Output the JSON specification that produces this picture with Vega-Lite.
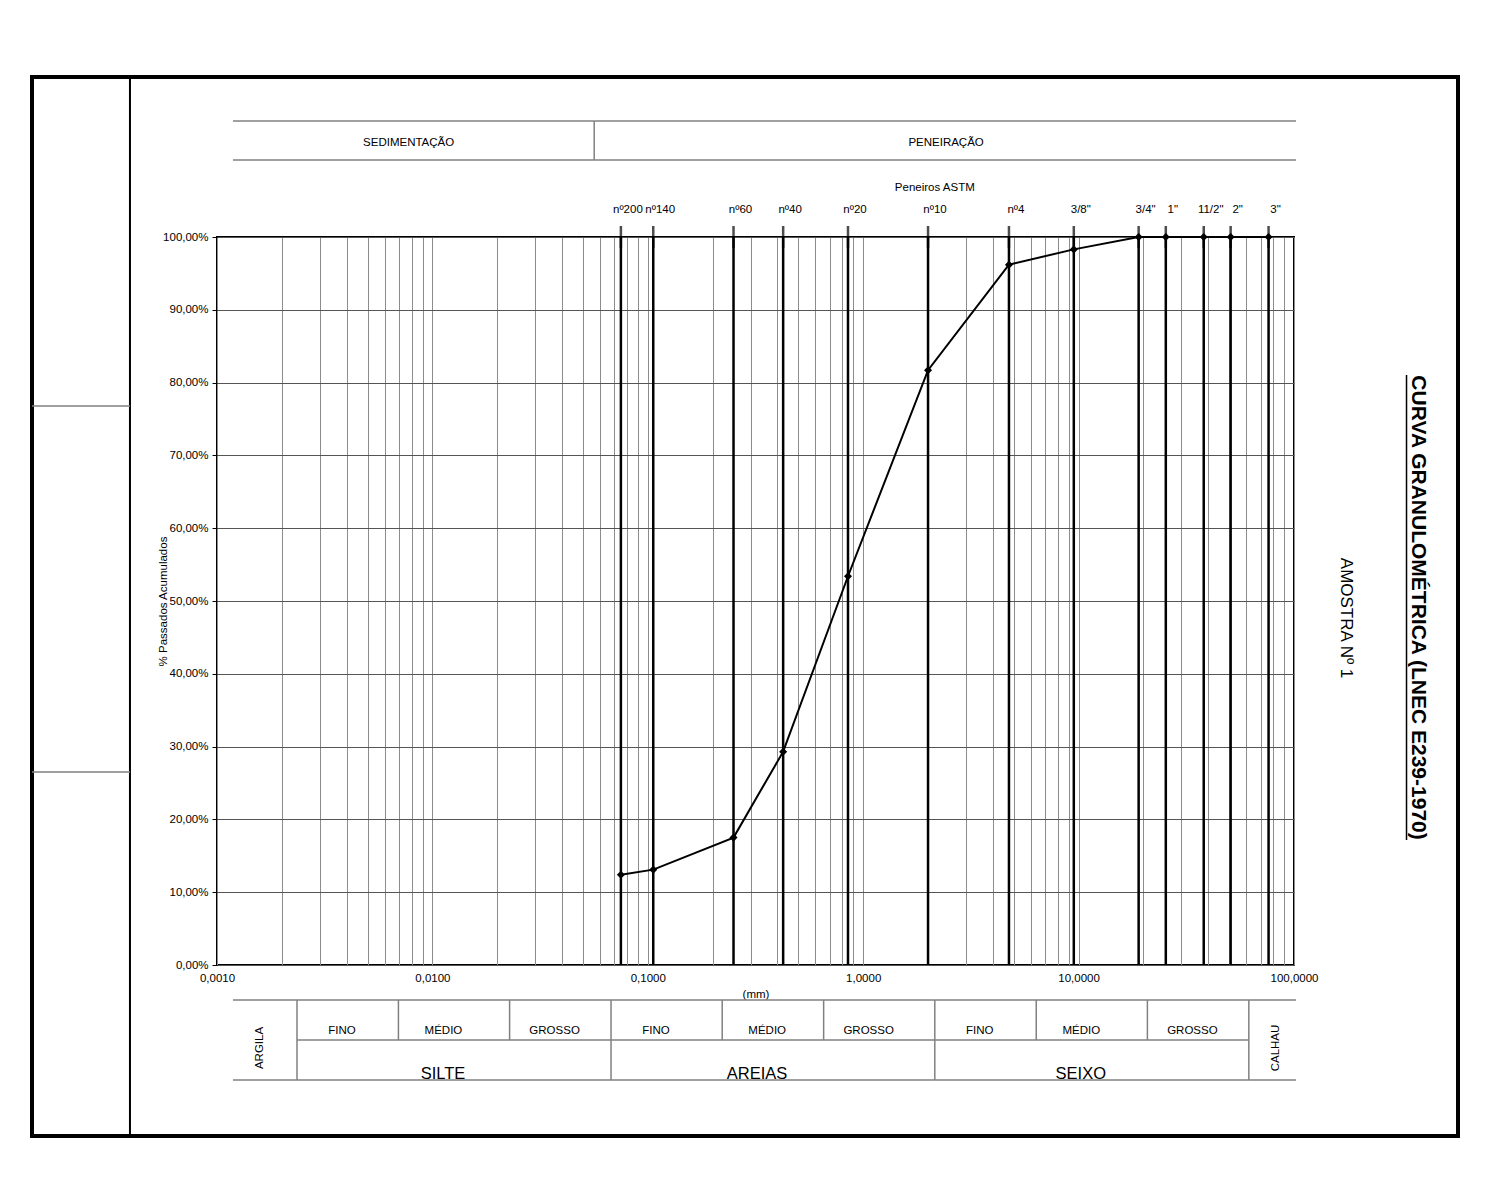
{
  "$schema": "https://vega.github.io/schema/vega-lite/v6.json",
  "width": 1077,
  "height": 728,
  "autosize": {"type": "none"},
  "padding": {"left": 217, "top": 237, "right": 206, "bottom": 235},
  "background": "white",
  "config": {
    "font": "Liberation Sans",
    "view": {"stroke": "black", "strokeWidth": 2},
    "axis": {"labelFont": "Liberation Sans", "labelFontSize": 11.5, "labelColor": "black", "titleFont": "Liberation Sans", "titleFontSize": 11.5, "titleFontWeight": "normal", "titleColor": "black"},
    "text": {"font": "Liberation Sans", "fontSize": 11.5, "color": "black"}
  },
  "datasets": {
    "sieves": [
      {"sieve": "nº200", "size": 0.075, "passing": 0.124},
      {"sieve": "nº140", "size": 0.106, "passing": 0.131},
      {"sieve": "nº60", "size": 0.25, "passing": 0.175},
      {"sieve": "nº40", "size": 0.425, "passing": 0.293},
      {"sieve": "nº20", "size": 0.85, "passing": 0.534},
      {"sieve": "nº10", "size": 2.0, "passing": 0.817},
      {"sieve": "nº4", "size": 4.75, "passing": 0.962},
      {"sieve": "3/8\"", "size": 9.5, "passing": 0.983},
      {"sieve": "3/4\"", "size": 19.0, "passing": 1.0},
      {"sieve": "1\"", "size": 25.4, "passing": 1.0},
      {"sieve": "11/2\"", "size": 38.1, "passing": 1.0},
      {"sieve": "2\"", "size": 50.8, "passing": 1.0},
      {"sieve": "3\"", "size": 76.2, "passing": 1.0}
    ],
    "fractions": [
      {"fraction": "ARGILA", "from": 0.001, "to": 0.002},
      {"fraction": "SILTE", "from": 0.002, "to": 0.06},
      {"fraction": "AREIAS", "from": 0.06, "to": 2},
      {"fraction": "SEIXO", "from": 2, "to": 60},
      {"fraction": "CALHAU", "from": 60, "to": 100}
    ],
    "subfractions": [
      {"fraction": "SILTE", "grade": "FINO", "from": 0.002, "to": 0.006},
      {"fraction": "SILTE", "grade": "MÉDIO", "from": 0.006, "to": 0.02},
      {"fraction": "SILTE", "grade": "GROSSO", "from": 0.02, "to": 0.06},
      {"fraction": "AREIAS", "grade": "FINO", "from": 0.06, "to": 0.2},
      {"fraction": "AREIAS", "grade": "MÉDIO", "from": 0.2, "to": 0.6},
      {"fraction": "AREIAS", "grade": "GROSSO", "from": 0.6, "to": 2},
      {"fraction": "SEIXO", "grade": "FINO", "from": 2, "to": 6},
      {"fraction": "SEIXO", "grade": "MÉDIO", "from": 6, "to": 20},
      {"fraction": "SEIXO", "grade": "GROSSO", "from": 20, "to": 60}
    ],
    "procedures": [
      {"method": "SEDIMENTAÇÃO", "from": 0.001, "to": 0.05},
      {"method": "PENEIRAÇÃO", "from": 0.05, "to": 100}
    ]
  },
  "resolve": {"scale": {"x": "independent", "y": "independent"}},
  "layer": [
    {
      "data": {"name": "sieves"},
      "layer": [
        {
          "mark": {"type": "rule", "color": "black", "strokeWidth": 2.5},
          "encoding": {
            "x": {"field": "size", "type": "quantitative", "scale": {"type": "log", "domain": [0.001, 100]}},
            "y": {"datum": 0},
            "y2": {"datum": 1}
          }
        },
        {
          "mark": {"type": "tick", "orient": "vertical", "color": "black", "thickness": 2.5, "size": 22},
          "encoding": {
            "x": {"field": "size", "type": "quantitative"},
            "y": {"datum": 1}
          }
        },
        {
          "mark": {"type": "text", "dy": -27, "dx": 7, "fontSize": 11.5, "baseline": "middle", "align": "center"},
          "encoding": {
            "x": {"field": "size", "type": "quantitative"},
            "y": {"datum": 1},
            "text": {"field": "sieve"}
          }
        },
        {
          "data": {"values": [{"caption": "Peneiros ASTM"}]},
          "mark": {"type": "text", "dy": -49, "fontSize": 11.5, "baseline": "middle", "align": "center"},
          "encoding": {
            "x": {"datum": 2.15},
            "y": {"datum": 1},
            "text": {"field": "caption"}
          }
        },
        {
          "mark": {"type": "line", "color": "black", "strokeWidth": 2},
          "encoding": {
            "x": {
              "field": "size", "type": "quantitative",
              "scale": {"type": "log", "domain": [0.001, 100]},
              "axis": {
                "orient": "bottom",
                "values": [0.001,0.002,0.003,0.004,0.005,0.006,0.007,0.008,0.009,0.01,0.02,0.03,0.04,0.05,0.06,0.07,0.08,0.09,0.1,0.2,0.3,0.4,0.5,0.6,0.7,0.8,0.9,1,2,3,4,5,6,7,8,9,10,20,30,40,50,60,70,80,90,100],
                "grid": true, "gridColor": "#8c8c8c", "gridWidth": 1,
                "ticks": false, "domain": false,
                "labelExpr": "test(/^[0.]*1[0.]*$/, format(datum.value, '.4f')) ? replace(format(datum.value, '.4f'), '.', ',') : ''",
                "labelPadding": 7, "labelOverlap": false, "labelFlush": false, "labelBound": false,
                "title": "(mm)", "titlePadding": 5
              }
            },
            "y": {
              "field": "passing", "type": "quantitative",
              "scale": {"domain": [0, 1], "nice": false, "zero": false},
              "axis": {
                "values": [0,0.1,0.2,0.3,0.4,0.5,0.6,0.7,0.8,0.9,1],
                "grid": true, "gridColor": "#555555", "gridWidth": 1,
                "tickSize": 5, "tickColor": "black", "domain": false,
                "labelExpr": "replace(format(datum.value, '.2%'), '.', ',')",
                "labelPadding": 4,
                "title": "% Passados Acumulados", "titlePadding": -6
              }
            }
          }
        },
        {
          "mark": {"type": "point", "shape": "diamond", "filled": true, "color": "black", "size": 65, "opacity": 1},
          "encoding": {
            "x": {"field": "size", "type": "quantitative"},
            "y": {"field": "passing", "type": "quantitative"}
          }
        }
      ]
    },
    {
      "data": {"name": "procedures"},
      "layer": [
        {
          "mark": {"type": "rule", "color": "#808080", "strokeWidth": 1.5},
          "encoding": {
            "x": {"field": "from", "type": "quantitative", "scale": {"type": "log", "domain": [0.001, 100], "range": [16, 1079]}, "axis": null},
            "x2": {"field": "to"},
            "y": {"datum": 0, "scale": {"domain": [0, 1], "range": [-116, -77], "nice": false, "zero": false}, "axis": null}
          }
        },
        {
          "mark": {"type": "rule", "color": "#808080", "strokeWidth": 1.5},
          "encoding": {
            "x": {"field": "from", "type": "quantitative", "axis": null},
            "x2": {"field": "to"},
            "y": {"datum": 1, "axis": null}
          }
        },
        {
          "transform": [{"filter": "datum.from > 0.001"}],
          "mark": {"type": "rule", "color": "#808080", "strokeWidth": 1.5},
          "encoding": {
            "x": {"field": "from", "type": "quantitative", "axis": null},
            "y": {"datum": 0, "axis": null},
            "y2": {"datum": 1}
          }
        },
        {
          "transform": [{"filter": "datum.method == 'SEDIMENTAÇÃO'"}],
          "mark": {"type": "text", "fontSize": 11.5, "align": "center", "baseline": "middle", "dy": 2},
          "encoding": {
            "x": {"datum": 0.0067, "axis": null},
            "y": {"datum": 0.5, "axis": null},
            "text": {"field": "method"}
          }
        },
        {
          "transform": [{"filter": "datum.method == 'PENEIRAÇÃO'"}],
          "mark": {"type": "text", "fontSize": 11.5, "align": "center", "baseline": "middle", "dy": 2},
          "encoding": {
            "x": {"datum": 2.26, "axis": null},
            "y": {"datum": 0.5, "axis": null},
            "text": {"field": "method"}
          }
        }
      ]
    },
    {
      "layer": [
        {
          "data": {"name": "fractions"},
          "mark": {"type": "rule", "color": "#808080", "strokeWidth": 1.5},
          "encoding": {
            "x": {"field": "from", "type": "quantitative", "scale": {"type": "log", "domain": [0.001, 100], "range": [16, 1079]}, "axis": null},
            "x2": {"field": "to"},
            "y": {"datum": 0, "scale": {"domain": [0, 2], "range": [763, 843], "nice": false, "zero": false}, "axis": null}
          }
        },
        {
          "data": {"name": "fractions"},
          "mark": {"type": "rule", "color": "#808080", "strokeWidth": 1.5},
          "encoding": {
            "x": {"field": "from", "type": "quantitative", "axis": null},
            "x2": {"field": "to"},
            "y": {"datum": 2, "axis": null}
          }
        },
        {
          "data": {"name": "fractions"},
          "transform": [{"filter": "datum.from > 0.001"}],
          "mark": {"type": "rule", "color": "#808080", "strokeWidth": 1.5},
          "encoding": {
            "x": {"field": "from", "type": "quantitative", "axis": null},
            "y": {"datum": 0, "axis": null},
            "y2": {"datum": 2}
          }
        },
        {
          "data": {"name": "fractions"},
          "transform": [{"filter": "datum.fraction == 'SILTE' || datum.fraction == 'AREIAS' || datum.fraction == 'SEIXO'"}],
          "mark": {"type": "rule", "color": "#808080", "strokeWidth": 1.5},
          "encoding": {
            "x": {"field": "from", "type": "quantitative", "axis": null},
            "x2": {"field": "to"},
            "y": {"datum": 1, "axis": null}
          }
        },
        {
          "data": {"name": "subfractions"},
          "transform": [{"filter": "datum.grade != 'FINO'"}],
          "mark": {"type": "rule", "color": "#808080", "strokeWidth": 1.5},
          "encoding": {
            "x": {"field": "from", "type": "quantitative", "axis": null},
            "y": {"datum": 0, "axis": null},
            "y2": {"datum": 1}
          }
        },
        {
          "data": {"name": "subfractions"},
          "mark": {"type": "text", "fontSize": 11.5, "align": "center", "baseline": "bottom", "dx": 45, "dy": -4},
          "encoding": {
            "x": {"field": "from", "type": "quantitative", "axis": null},
            "y": {"datum": 1, "axis": null},
            "text": {"field": "grade"}
          }
        },
        {
          "data": {"name": "fractions"},
          "transform": [{"filter": "datum.fraction == 'SILTE' || datum.fraction == 'AREIAS' || datum.fraction == 'SEIXO'"}],
          "mark": {"type": "text", "fontSize": 16.5, "align": "center", "baseline": "alphabetic", "dx": 146, "dy": -1},
          "encoding": {
            "x": {"field": "from", "type": "quantitative", "axis": null},
            "y": {"datum": 2, "axis": null},
            "text": {"field": "fraction"}
          }
        },
        {
          "data": {"name": "fractions"},
          "transform": [{"filter": "datum.fraction == 'ARGILA' || datum.fraction == 'CALHAU'"}],
          "mark": {"type": "text", "fontSize": 11.5, "angle": 270, "align": "center", "baseline": "middle", "dx": -8, "dy": 27},
          "encoding": {
            "x": {"field": "from", "type": "quantitative", "axis": null},
            "y": {"datum": 1, "axis": null},
            "text": {"field": "fraction"}
          }
        }
      ]
    },
    {
      "data": {"values": [{"title": "CURVA GRANULOMÉTRICA (LNEC E239-1970)", "sample": "AMOSTRA Nº 1"}]},
      "layer": [
        {
          "mark": {"type": "rect", "fillOpacity": 0, "stroke": "black", "strokeWidth": 4},
          "encoding": {
            "x": {"datum": 0, "scale": {"domain": [0, 1], "range": [-185, 1241], "nice": false, "zero": false}, "axis": null},
            "x2": {"datum": 1},
            "y": {"datum": 0, "scale": {"domain": [0, 1], "range": [-160, 899], "nice": false, "zero": false}, "axis": null},
            "y2": {"datum": 1}
          }
        },
        {
          "mark": {"type": "rule", "color": "black", "strokeWidth": 2},
          "encoding": {
            "x": {"datum": 0.0687, "axis": null},
            "y": {"datum": 0, "axis": null},
            "y2": {"datum": 1}
          }
        },
        {
          "mark": {"type": "rule", "color": "#808080", "strokeWidth": 1.5},
          "encoding": {
            "x": {"datum": 0, "axis": null},
            "x2": {"datum": 0.0687},
            "y": {"datum": 0.3107, "axis": null}
          }
        },
        {
          "mark": {"type": "rule", "color": "#808080", "strokeWidth": 1.5},
          "encoding": {
            "x": {"datum": 0, "axis": null},
            "x2": {"datum": 0.0687},
            "y": {"datum": 0.6563, "axis": null}
          }
        },
        {
          "mark": {"type": "text", "angle": 90, "fontSize": 21, "fontWeight": "bold", "align": "center", "baseline": "middle"},
          "encoding": {
            "x": {"datum": 0.972, "axis": null},
            "y": {"datum": 0.501, "axis": null},
            "text": {"field": "title"}
          }
        },
        {
          "mark": {"type": "rule", "color": "black", "strokeWidth": 1.5},
          "encoding": {
            "x": {"datum": 0.9639, "axis": null},
            "y": {"datum": 0.2814, "axis": null},
            "y2": {"datum": 0.7205}
          }
        },
        {
          "mark": {"type": "text", "angle": 90, "fontSize": 17, "align": "center", "baseline": "middle"},
          "encoding": {
            "x": {"datum": 0.9215, "axis": null},
            "y": {"datum": 0.5109, "axis": null},
            "text": {"field": "sample"}
          }
        }
      ]
    }
  ]
}
